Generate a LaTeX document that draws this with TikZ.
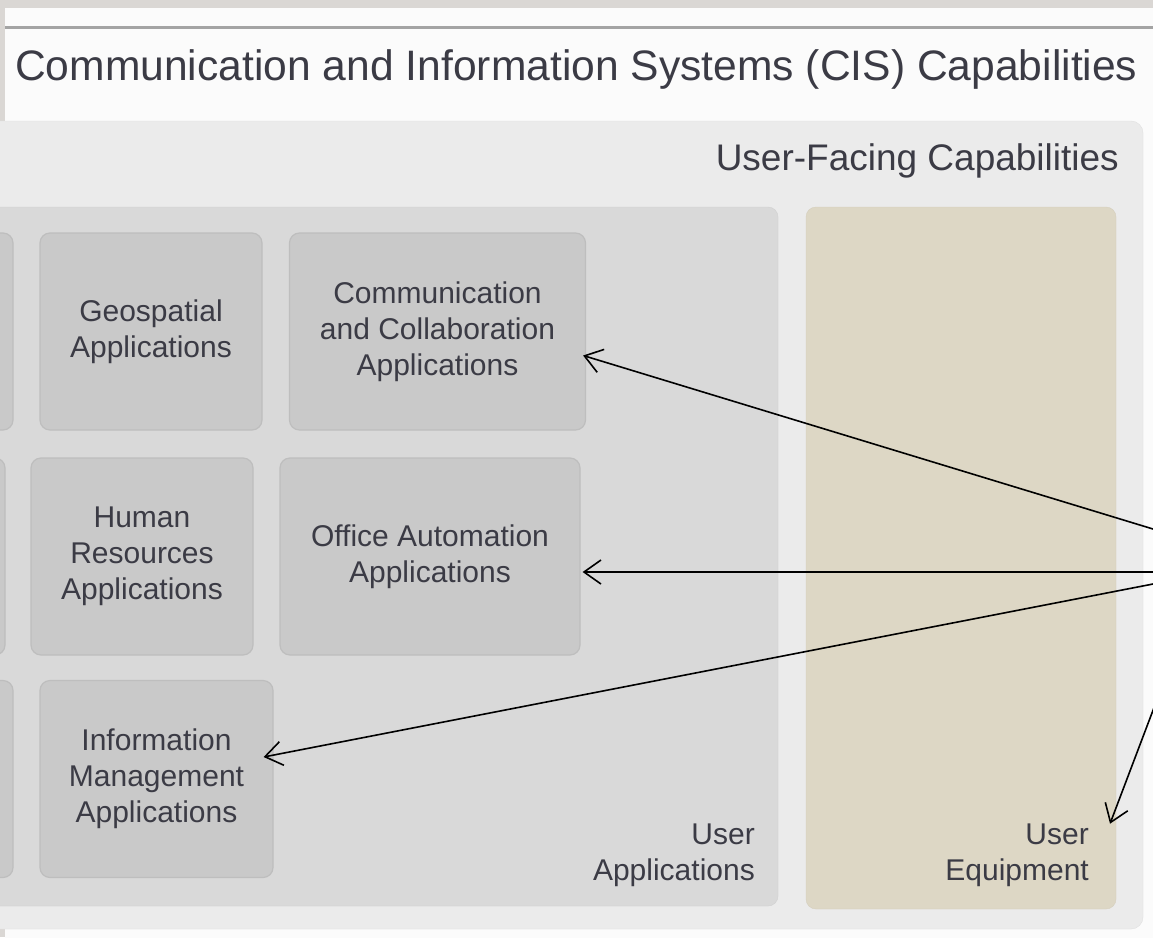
\documentclass[tikz,border=0pt]{standalone}
\usepackage{fontspec}
\setmainfont{Liberation Sans}
\usetikzlibrary{arrows.meta}
\definecolor{frame}{HTML}{DAD7D4}
\definecolor{paper}{HTML}{FBFBFB}
\definecolor{topline}{HTML}{A4A4A4}
\definecolor{facing}{HTML}{EBEBEB}
\definecolor{facingline}{HTML}{E0E0E0}
\definecolor{apps}{HTML}{D9D9D9}
\definecolor{appsline}{HTML}{D0D0D0}
\definecolor{equip}{HTML}{DDD7C5}
\definecolor{equipline}{HTML}{D5CFBD}
\definecolor{boxfill}{HTML}{C9C9C9}
\definecolor{boxline}{HTML}{BEBEBE}
\definecolor{ink}{HTML}{3B3B45}
\begin{document}
\begin{tikzpicture}[x=1pt,y=-1pt,
    app node/.style={rounded corners=10pt,draw=boxline,fill=boxfill,line width=1.2pt,minimum height=197pt,align=center,font=\fontsize{30}{36}\selectfont,text=ink},
    label node/.style={inner sep=0pt,align=right,font=\fontsize{30}{36}\selectfont,text=ink},
    pointer/.style={line width=1.6pt,-{Straight Barb[length=17pt,width=24pt]}}]
                \useasboundingbox (0,0) rectangle (1153,937);
                \clip (0,0) rectangle (1153,937);
                \fill[frame] (0,0) rectangle (1153,937);
                \fill[paper] (5,8) rectangle (1160,945);
                \draw[topline,line width=3pt] (5,27) -- (1160,27);
                \filldraw[rounded corners=12pt,fill=facing,draw=facingline] (-30,121) rectangle (1143,929);
                \filldraw[rounded corners=10pt,fill=apps,draw=appsline] (-30,207) rectangle (778,906);
                \filldraw[rounded corners=10pt,fill=equip,draw=equipline] (806,207) rectangle (1116,909);

                \node[anchor=base west,inner sep=0pt,font=\fontsize{42.6}{50}\selectfont,text=ink] at (15,80) (title) {Communication and Information Systems (CIS) Capabilities};
                \node[anchor=base east,inner sep=0pt,font=\fontsize{37}{44}\selectfont,text=ink] at (1119,170) (facing) {User-Facing Capabilities};

                \node[app node,minimum width=222pt] at (-98,331.5) (cut1) {};
                \node[app node,minimum width=222pt] at (151,331.5) (geo) {Geospatial\\Applications};
                \node[app node,minimum width=296pt] at (437.5,331.5) (comm) {Communication\\and Collaboration\\Applications};
                \node[app node,minimum width=222pt] at (-106,556.5) (cut2) {};
                \node[app node,minimum width=222pt] at (142,556.5) (hr) {Human\\Resources\\Applications};
                \node[app node,minimum width=300pt] at (430,556.5) (office) {Office Automation\\Applications};
                \node[app node,minimum width=222pt] at (-98,779) (cut3) {};
                \node[app node,minimum width=233pt] at (156.5,779) (info) {Information\\Management\\Applications};

                \node[label node,anchor=south east] at (755,887) (uapps) {User\\Applications};
                \node[label node,anchor=south east] at (1089,887) (ueq) {User\\Equipment};

                \coordinate (r1) at (1153,529);
                \coordinate (r2) at (1153,572);
                \coordinate (r3) at (1153,584);
                \coordinate (r4) at (1155,705);

                \path
                    (r1) edge[pointer] ([shift={(-3,24)}]comm.east)
                    (r2) edge[pointer] ([shift={(2,15.5)}]office.east)
                    (r3) edge[pointer] ([shift={(-10,-22)}]info.east)
                    (r4) edge[pointer] ([shift={(21,0)}]ueq.north east)
                    ;
            \end{tikzpicture}
\end{document}
